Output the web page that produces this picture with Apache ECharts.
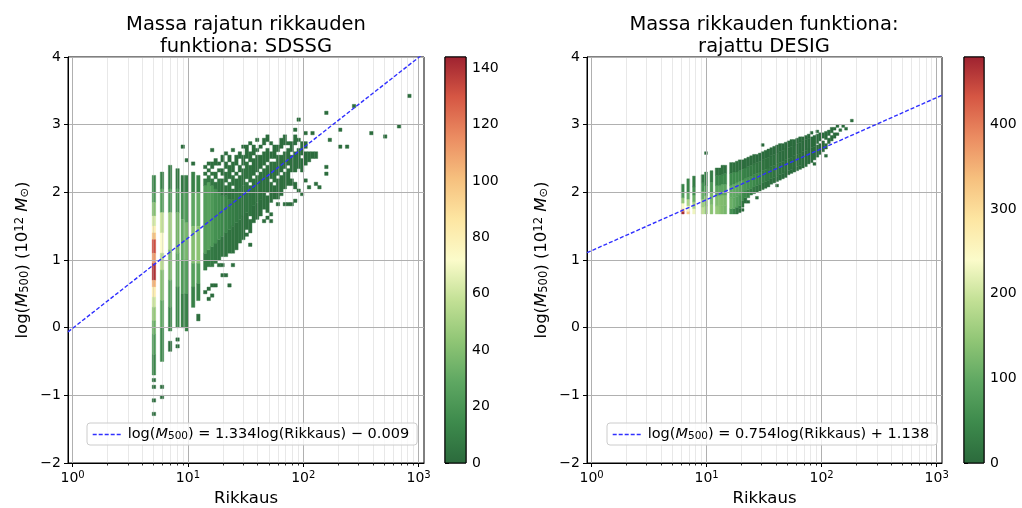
<!DOCTYPE html>
<html>
<head>
<meta charset="utf-8">
<script src="https://cdn.jsdelivr.net/npm/echarts@6/dist/echarts.min.js"></script>
<style>
  html, body { margin: 0; padding: 0; background: #fff; }
  #chart { width: 1022px; height: 508px; }
</style>
</head>
<body>
<div id="chart"></div>
<script>
// ---- axis ticks and ranges ----
const xMajorTicks = [1, 10, 100, 1000];
const xMinorTicks = [2, 3, 4, 5, 6, 7, 8, 9, 20, 30, 40, 50, 60, 70, 80, 90, 200, 300, 400, 500, 600, 700, 800, 900];
const leftBarTicks = [0, 20, 40, 60, 80, 100, 120, 140];
const rightBarTicks = [0, 100, 200, 300, 400];
const leftCountMax = 144;
const rightCountMax = 480;

// ---- fit lines: log(M500) = slope * log(Rikkaus) + intercept ----
const leftFit = { slope: 1.334, intercept: -0.009 };
const rightFit = { slope: 0.754, intercept: 1.138 };

// ---- 2D histogram bin widths (in log10 Rikkaus) ----
const leftBinWidth = 0.03;
const rightBinWidth = 0.025;

// SDSSG: [log10 Rikkaus bin start, [[log M from, log M to, count], ...]]
const leftColumns = [
  [0.690, [[2.00,2.25,12],[1.85,2.00,22],[1.65,1.85,40],[1.50,1.65,62],[1.40,1.50,80],[1.30,1.40,100],[1.10,1.30,132],[0.95,1.10,112],[0.70,0.95,140],[0.60,0.70,105],[0.45,0.60,82],[0.30,0.45,60],[0.10,0.30,45],[-0.10,0.10,32],[-0.40,-0.10,22],[-0.70,-0.40,12],[-0.80,-0.75,2],[-0.90,-0.85,1],[-1.10,-1.05,1],[-1.30,-1.25,1]]],
  [0.760, [[2.05,2.30,10],[1.70,2.05,25],[1.40,1.70,58],[1.10,1.40,72],[0.85,1.10,55],[0.40,0.85,40],[0.00,0.40,28],[-0.50,0.00,14],[-0.90,-0.85,1],[-1.05,-1.00,1]]],
  [0.830, [[2.05,2.40,8],[1.70,2.05,22],[1.15,1.70,48],[0.70,1.15,38],[0.30,0.70,25],[-0.05,0.30,12],[-0.35,-0.20,2]]],
  [0.895, [[2.05,2.35,6],[1.70,2.05,18],[1.10,1.70,35],[0.60,1.10,28],[0.00,0.60,14],[-0.20,-0.15,1],[-0.30,-0.25,1]]],
  [0.940, [[2.65,2.70,1],[2.00,2.25,6],[1.60,2.00,18],[1.00,1.60,30],[0.50,1.00,22],[0.00,0.50,10]]],
  [0.975, [[2.45,2.50,1],[2.00,2.25,8],[1.55,2.00,22],[1.00,1.55,36],[0.50,1.00,24],[-0.05,0.50,10]]],
  [1.030, [[2.40,2.45,1],[2.00,2.30,10],[1.50,2.00,28],[0.95,1.50,40],[0.60,0.95,25],[0.30,0.60,10]]],
  [1.075, [[2.00,2.25,12],[1.50,2.00,30],[0.95,1.50,42],[0.65,0.95,25],[0.40,0.65,10],[0.10,0.20,2]]],
  [1.135, [[0.85,1.10,8],[1.10,2.10,24],[2.10,2.20,8],[2.25,2.30,4],[2.35,2.40,2],[0.50,0.55,1]]],
  [1.165, [[0.90,1.15,8],[1.15,2.15,26],[2.15,2.25,7],[2.30,2.35,3],[2.40,2.45,2],[0.55,0.60,1],[0.40,0.45,1]]],
  [1.195, [[0.90,1.20,7],[1.20,2.10,22],[2.10,2.20,6],[2.25,2.30,3],[2.35,2.45,2],[2.60,2.65,1],[0.60,0.65,1],[0.45,0.50,1]]],
  [1.225, [[0.95,1.25,6],[1.25,2.05,18],[2.05,2.15,5],[2.20,2.30,3],[2.40,2.50,2],[0.60,0.65,1]]],
  [1.255, [[1.00,1.30,5],[1.30,2.00,16],[2.00,2.20,5],[2.30,2.35,2],[2.40,2.45,1],[0.90,0.95,1]]],
  [1.285, [[1.05,1.35,5],[1.35,1.95,14],[1.95,2.20,4],[2.25,2.35,2],[2.45,2.55,1],[0.90,0.95,1],[0.75,0.80,1]]],
  [1.315, [[1.05,1.40,4],[1.40,1.95,12],[1.95,2.10,4],[2.15,2.30,3],[2.35,2.45,2],[2.55,2.60,1],[0.75,0.80,1]]],
  [1.345, [[1.10,1.45,4],[1.45,1.90,10],[1.90,2.15,4],[2.20,2.40,3],[2.45,2.55,1],[0.60,0.65,1]]],
  [1.375, [[1.10,1.50,3],[1.50,1.90,8],[1.90,2.05,4],[2.10,2.25,3],[2.30,2.45,2],[2.60,2.65,1],[0.90,0.95,1]]],
  [1.405, [[1.15,1.55,3],[1.55,2.00,7],[2.00,2.20,3],[2.25,2.30,2],[2.40,2.55,2]]],
  [1.435, [[1.25,1.60,3],[1.60,2.05,6],[2.05,2.25,3],[2.30,2.40,2],[2.50,2.60,1]]],
  [1.465, [[1.30,1.65,3],[1.65,2.10,5],[2.10,2.35,3],[2.40,2.55,2],[2.65,2.70,1]]],
  [1.495, [[1.35,1.40,1],[1.45,1.70,2],[1.70,2.15,5],[2.20,2.45,3],[2.50,2.70,1]]],
  [1.525, [[1.20,1.25,1],[1.40,1.60,2],[1.65,2.10,4],[2.15,2.40,3],[2.45,2.60,2],[2.70,2.75,1]]],
  [1.555, [[1.55,1.80,2],[1.80,2.20,4],[2.25,2.50,2],[2.55,2.70,1]]],
  [1.585, [[1.60,1.85,2],[1.85,2.25,4],[2.30,2.55,2],[2.60,2.65,1],[2.75,2.80,1]]],
  [1.615, [[1.65,1.90,2],[1.90,2.30,3],[2.35,2.55,2],[2.65,2.70,1]]],
  [1.645, [[1.55,1.60,1],[1.75,2.00,2],[2.00,2.35,3],[2.40,2.60,2],[2.70,2.80,1]]],
  [1.675, [[1.60,1.65,1],[1.70,1.95,2],[2.00,2.40,3],[2.45,2.65,2],[2.75,2.85,1]]],
  [1.705, [[1.55,1.60,1],[1.65,1.70,1],[1.85,2.15,2],[2.20,2.45,2],[2.50,2.60,1],[2.70,2.75,1]]],
  [1.735, [[1.90,2.10,2],[2.15,2.45,3],[2.50,2.70,1]]],
  [1.765, [[1.80,1.85,1],[1.90,2.20,2],[2.25,2.55,2],[2.60,2.70,1]]],
  [1.795, [[1.95,2.25,2],[2.30,2.55,2],[2.65,2.80,1]]],
  [1.825, [[1.80,1.85,1],[2.05,2.30,2],[2.35,2.60,2],[2.70,2.85,1]]],
  [1.855, [[1.80,1.85,1],[2.10,2.35,2],[2.40,2.65,2],[2.70,2.75,1]]],
  [1.885, [[1.80,1.85,1],[2.10,2.20,1],[2.30,2.55,2],[2.60,2.75,1]]],
  [1.915, [[1.85,1.90,1],[2.05,2.15,1],[2.30,2.60,2],[2.70,2.85,1],[2.90,2.95,1]]],
  [1.945, [[2.00,2.05,1],[2.35,2.65,2],[2.75,2.80,1],[3.05,3.10,1]]],
  [1.975, [[1.95,2.00,1],[2.30,2.50,1],[2.55,2.75,2]]],
  [2.005, [[2.15,2.20,1],[2.40,2.60,1],[2.65,2.75,1],[2.85,2.90,1]]],
  [2.035, [[2.05,2.10,1],[2.45,2.60,1]]],
  [2.065, [[2.50,2.60,1],[2.85,2.90,1]]],
  [2.095, [[2.10,2.15,1],[2.50,2.60,1]]],
  [2.125, [[2.05,2.10,1]]],
  [2.185, [[2.25,2.30,1],[2.35,2.40,1],[3.15,3.20,1]]],
  [2.215, [[2.75,2.80,1]]],
  [2.305, [[2.65,2.70,1],[2.90,2.95,1]]],
  [2.365, [[2.65,2.70,1]]],
  [2.425, [[3.25,3.30,1]]],
  [2.575, [[2.85,2.90,1]]],
  [2.695, [[2.80,2.85,1]]],
  [2.815, [[2.95,3.00,1]]],
  [2.905, [[3.40,3.45,1]]]
];

// DESIG (cut): [log10 Rikkaus bin start, [[log M from, log M to, count], ...]]
const rightColumns = [
  [0.780, [[1.68,1.72,470],[1.72,1.76,360],[1.76,1.84,240],[1.84,1.92,150],[1.92,2.00,80],[2.00,2.12,40]]],
  [0.828, [[1.68,1.72,320],[1.72,1.80,250],[1.80,1.90,170],[1.90,2.00,100],[2.00,2.20,40]]],
  [0.878, [[1.68,1.76,230],[1.76,1.86,170],[1.86,1.96,110],[1.96,2.08,60],[2.08,2.24,25]]],
  [0.952, [[1.68,1.78,190],[1.78,1.90,160],[1.90,2.02,110],[2.02,2.14,60],[2.14,2.26,20]]],
  [0.982, [[1.68,1.80,150],[1.80,1.95,130],[1.95,2.10,80],[2.10,2.30,30],[2.56,2.60,1]]],
  [1.030, [[1.68,1.82,140],[1.82,2.00,120],[2.00,2.15,70],[2.15,2.32,25]]],
  [1.075, [[1.68,1.80,150],[1.80,1.95,130],[1.95,2.10,90],[2.10,2.25,40],[2.25,2.36,12]]],
  [1.100, [[1.68,1.80,140],[1.80,1.95,135],[1.95,2.10,95],[2.10,2.25,45],[2.25,2.36,12]]],
  [1.125, [[1.68,1.80,130],[1.80,1.96,130],[1.96,2.12,95],[2.12,2.26,45],[2.26,2.40,10]]],
  [1.150, [[1.68,1.80,120],[1.80,1.96,125],[1.96,2.12,90],[2.12,2.28,45],[2.28,2.40,10]]],
  [1.200, [[1.68,1.76,60],[1.76,1.92,110],[1.92,2.10,100],[2.10,2.28,50],[2.28,2.44,10]]],
  [1.225, [[1.68,1.76,40],[1.76,1.92,100],[1.92,2.12,100],[2.12,2.30,50],[2.30,2.44,10]]],
  [1.250, [[1.68,1.78,20],[1.78,1.94,85],[1.94,2.14,95],[2.14,2.30,50],[2.30,2.46,10]]],
  [1.275, [[1.70,1.76,8],[1.76,1.80,25],[1.80,1.96,70],[1.96,2.16,90],[2.16,2.32,45],[2.32,2.48,8]]],
  [1.300, [[1.72,1.76,2],[1.78,1.88,15],[1.88,2.00,55],[2.00,2.18,80],[2.18,2.34,40],[2.34,2.48,8]]],
  [1.325, [[1.84,1.92,6],[1.92,2.02,45],[2.02,2.20,70],[2.20,2.36,35],[2.36,2.50,6]]],
  [1.350, [[1.84,1.88,1],[1.92,2.04,35],[2.04,2.22,60],[2.22,2.38,30],[2.38,2.52,5]]],
  [1.375, [[1.96,2.06,25],[2.06,2.24,55],[2.24,2.40,25],[2.40,2.54,4]]],
  [1.400, [[1.98,2.08,20],[2.08,2.26,45],[2.26,2.42,22],[2.42,2.56,4]]],
  [1.425, [[1.90,1.94,1],[2.00,2.10,15],[2.10,2.28,40],[2.28,2.44,18],[2.44,2.56,3]]],
  [1.450, [[2.02,2.12,12],[2.12,2.30,35],[2.30,2.46,16],[2.46,2.58,3]]],
  [1.475, [[2.04,2.14,10],[2.14,2.32,30],[2.32,2.48,14],[2.48,2.60,3],[2.68,2.72,1]]],
  [1.500, [[2.06,2.16,8],[2.16,2.34,26],[2.34,2.50,12],[2.50,2.62,3]]],
  [1.525, [[2.08,2.18,6],[2.18,2.36,22],[2.36,2.52,10],[2.52,2.64,2]]],
  [1.550, [[2.12,2.20,5],[2.20,2.38,18],[2.38,2.54,9],[2.54,2.66,2]]],
  [1.575, [[2.14,2.22,4],[2.22,2.40,15],[2.40,2.56,8],[2.56,2.68,2]]],
  [1.600, [[2.08,2.12,1],[2.16,2.24,3],[2.24,2.42,12],[2.42,2.58,7],[2.58,2.70,2]]],
  [1.625, [[2.18,2.26,3],[2.26,2.44,10],[2.44,2.60,6],[2.60,2.72,1]]],
  [1.650, [[2.20,2.28,2],[2.28,2.46,9],[2.46,2.62,5],[2.62,2.72,1]]],
  [1.675, [[2.22,2.30,2],[2.30,2.48,8],[2.48,2.64,4],[2.64,2.74,1]]],
  [1.700, [[2.26,2.32,2],[2.32,2.50,7],[2.50,2.66,4],[2.66,2.76,1]]],
  [1.725, [[2.28,2.34,1],[2.34,2.52,6],[2.52,2.68,3],[2.68,2.78,1]]],
  [1.750, [[2.30,2.36,1],[2.36,2.54,5],[2.54,2.70,3],[2.70,2.78,1]]],
  [1.775, [[2.32,2.38,1],[2.38,2.56,4],[2.56,2.72,2],[2.72,2.80,1]]],
  [1.800, [[2.34,2.40,1],[2.40,2.58,4],[2.58,2.74,2],[2.74,2.82,1]]],
  [1.825, [[2.36,2.60,3],[2.60,2.76,2],[2.76,2.82,1]]],
  [1.850, [[2.38,2.62,3],[2.62,2.78,2],[2.78,2.84,1]]],
  [1.875, [[2.42,2.64,2],[2.64,2.80,2],[2.80,2.86,1]]],
  [1.900, [[2.44,2.66,2],[2.66,2.82,1],[2.86,2.90,1]]],
  [1.925, [[2.40,2.44,1],[2.48,2.68,2],[2.68,2.84,1]]],
  [1.950, [[2.52,2.70,1],[2.72,2.86,1],[2.88,2.92,1]]],
  [1.975, [[2.56,2.72,1],[2.76,2.88,1]]],
  [2.000, [[2.60,2.76,1],[2.80,2.88,1]]],
  [2.025, [[2.52,2.56,1],[2.64,2.72,1],[2.78,2.90,1]]],
  [2.050, [[2.72,2.80,1],[2.84,2.92,1]]],
  [2.075, [[2.76,2.84,1],[2.88,2.96,1]]],
  [2.100, [[2.80,2.88,1],[2.92,2.96,1]]],
  [2.125, [[2.84,2.88,1],[2.96,3.00,1]]],
  [2.150, [[2.90,2.94,1]]],
  [2.175, [[2.96,3.00,1]]],
  [2.200, [[2.92,2.96,1]]],
  [2.250, [[3.04,3.08,1]]]
];

// ---- styling ----
const FONT = 'DejaVu Sans';
const X_MIN = 0.912, X_MAX = 1113;
const cmap = ['#2b6a3c', '#3d8a4c', '#5ea762', '#8fc575', '#c2e095', '#fbfbca', '#fde6a2', '#f6c07e', '#eb8d62', '#d65744', '#9e2230'];
const FIT_COLOR = '#3030ff';

const grids = [
  { left: 68, top: 57, width: 356, height: 406 },
  { left: 587, top: 57, width: 355, height: 406 },
  { left: 445, top: 57, width: 21, height: 406 },
  { left: 964, top: 57, width: 20, height: 406 }
];

function toCells(columns, binWidth) {
  const cells = [];
  columns.forEach(([x0, runs]) => {
    runs.forEach(([y0, y1, n]) => {
      cells.push([Math.pow(10, x0), Math.pow(10, x0 + binWidth), y0, y1, n]);
    });
  });
  return cells;
}

function fitPoints(fit) {
  return [X_MIN, X_MAX].map(x => [x, fit.slope * Math.log10(x) + fit.intercept]);
}

const minus = v => (v < 0 ? '\u2212' + Math.abs(v) : String(v));

const xLabelRich = {
  b: { fontFamily: FONT, fontSize: 14, color: '#000', lineHeight: 15, verticalAlign: 'bottom' },
  s: { fontFamily: FONT, fontSize: 10, color: '#000', lineHeight: 10, padding: [0, 0, 5, 0], verticalAlign: 'top' }
};

function makeXAxis(gridIndex) {
  return {
    type: 'log', logBase: 10, gridIndex, min: X_MIN, max: X_MAX, z: 3,
    name: 'Rikkaus', nameLocation: 'middle', nameGap: 26,
    nameTextStyle: { fontFamily: FONT, fontSize: 16.5, color: '#000' },
    axisLine: { show: true, onZero: false, lineStyle: { color: '#000', width: 1 } },
    axisTick: { show: true, customValues: xMajorTicks, length: 4, lineStyle: { color: '#000' } },
    axisLabel: {
      customValues: xMajorTicks, margin: 7, fontFamily: FONT, fontSize: 14, color: '#000',
      formatter: v => '{b|10}{s|' + Math.round(Math.log10(v)) + '}', rich: xLabelRich
    },
    splitLine: { show: true, lineStyle: { color: '#b0b0b0', width: 1 } }
  };
}

const yNameRich = {
  n: { fontFamily: FONT, fontSize: 16.5, color: '#000' },
  i: { fontFamily: FONT, fontSize: 16.5, color: '#000', fontStyle: 'italic' },
  sub: { fontFamily: FONT, fontSize: 11.5, color: '#000', lineHeight: 12, padding: [6, 0, 0, 0], verticalAlign: 'bottom' },
  sup: { fontFamily: FONT, fontSize: 11.5, color: '#000', lineHeight: 12, padding: [0, 0, 6, 0], verticalAlign: 'top' }
};

function makeYAxis(gridIndex) {
  return {
    type: 'value', gridIndex, min: -2, max: 4, interval: 1, z: 3,
    name: '{n|log(}{i|M}{sub|500}{n|) (10}{sup|12}{n| }{i|M}{sub|\u2299}{n|)}',
    nameLocation: 'middle', nameGap: 37, nameRotate: 90,
    nameTextStyle: { fontFamily: FONT, fontSize: 16.5, color: '#000', rich: yNameRich },
    axisLine: { show: true, onZero: false, lineStyle: { color: '#000', width: 1 } },
    axisTick: { show: true, length: 4, lineStyle: { color: '#000' } },
    axisLabel: { margin: 7, fontFamily: FONT, fontSize: 14, color: '#000', formatter: minus },
    splitLine: { show: true, lineStyle: { color: '#b0b0b0', width: 1 } }
  };
}

function makeBarAxes(gridIndex, maxVal, ticks) {
  return [
    { type: 'value', gridIndex, min: 0, max: 1, show: false },
    {
      type: 'value', gridIndex, min: 0, max: maxVal, position: 'right',
      axisLine: { show: false },
      axisTick: { show: true, customValues: ticks, length: 4, lineStyle: { color: '#000' } },
      axisLabel: { customValues: ticks, margin: 6, fontFamily: FONT, fontSize: 14, color: '#000' },
      splitLine: { show: false }
    }
  ];
}

function heatSeries(idx, cells) {
  return {
    type: 'custom', xAxisIndex: idx, yAxisIndex: idx, z: 1, silent: true,
    encode: { x: [0, 1], y: [2, 3] },
    data: cells,
    renderItem(params, api) {
      const p0 = api.coord([api.value(0), api.value(2)]);
      const p1 = api.coord([api.value(1), api.value(3)]);
      const c = api.visual('color');
      return {
        type: 'rect',
        shape: { x: p0[0], y: p1[1], width: p1[0] - p0[0], height: p0[1] - p1[1] },
        style: { fill: c, stroke: c, lineWidth: 0.4 }
      };
    }
  };
}

function minorSeries(idx) {
  return {
    type: 'custom', xAxisIndex: idx, yAxisIndex: idx, z: 2, silent: true,
    data: xMinorTicks.map(v => [v, 0]),
    renderItem(params, api) {
      const cs = params.coordSys;
      const x = Math.round(api.coord([api.value(0), 0])[0]) + 0.5;
      const bottom = cs.y + cs.height;
      return {
        type: 'group',
        children: [
          { type: 'line', shape: { x1: x, y1: cs.y, x2: x, y2: bottom }, style: { stroke: 'rgba(190,190,190,0.35)', lineWidth: 1 } },
          { type: 'line', shape: { x1: x, y1: bottom, x2: x, y2: bottom + 2.5 }, style: { stroke: '#000', lineWidth: 0.8 } }
        ]
      };
    }
  };
}

function barSeries(idx, maxVal) {
  return {
    type: 'custom', xAxisIndex: idx, yAxisIndex: idx, silent: true,
    data: [[0, 0, 1, maxVal]],
    encode: { x: [0, 2], y: [1, 3] },
    renderItem(params, api) {
      const p0 = api.coord([api.value(0), api.value(1)]);
      const p1 = api.coord([api.value(2), api.value(3)]);
      const stops = cmap.map((c, i) => ({ offset: i / (cmap.length - 1), color: c }));
      return {
        type: 'rect',
        shape: { x: p0[0], y: p1[1], width: p1[0] - p0[0], height: p0[1] - p1[1] },
        style: { fill: new echarts.graphic.LinearGradient(0, 1, 0, 0, stops), stroke: '#000', lineWidth: 1 }
      };
    }
  };
}

function fitSeries(idx, name, fit) {
  return {
    type: 'line', name, xAxisIndex: idx, yAxisIndex: idx, z: 5, silent: true,
    symbol: 'none', clip: true, animation: false,
    data: fitPoints(fit),
    lineStyle: { color: FIT_COLOR, width: 1.4, type: [4, 2] },
    itemStyle: { color: FIT_COLOR }
  };
}

const legendRich = {
  t: { fontFamily: FONT, fontSize: 14.5, color: '#000' },
  i: { fontFamily: FONT, fontSize: 14.5, color: '#000', fontStyle: 'italic' },
  s: { fontFamily: FONT, fontSize: 10.5, color: '#000', lineHeight: 10, padding: [5, 0, 0, 0], verticalAlign: 'bottom' }
};
const fitLabel = fit => {
  const sign = fit.intercept < 0 ? ' \u2212 ' : ' + ';
  return '{t|log(}{i|M}{s|500}{t|) = ' + fit.slope.toFixed(3) + 'log(Rikkaus)' + sign + Math.abs(fit.intercept).toFixed(3) + '}';
};

function makeLegend(name, left, fit) {
  return {
    data: [name], left, top: 423, orient: 'horizontal', z: 10,
    itemWidth: 30, itemHeight: 12, itemGap: 10,
    padding: [3, 8, 3, 5],
    backgroundColor: 'rgba(255,255,255,0.8)', borderColor: '#cccccc', borderWidth: 1, borderRadius: 3,
    selectedMode: false,
    itemStyle: { opacity: 0, borderWidth: 0 },
    lineStyle: { type: 'inherit', width: 'inherit', color: 'inherit' },
    formatter: () => fitLabel(fit),
    textStyle: { fontFamily: FONT, fontSize: 14.5, color: '#000', rich: legendRich }
  };
}

const chart = echarts.init(document.getElementById('chart'));
const [bx2, by2] = makeBarAxes(2, leftCountMax, leftBarTicks);
const [bx3, by3] = makeBarAxes(3, rightCountMax, rightBarTicks);

const titleStyle = { fontFamily: FONT, fontSize: 19.5, fontWeight: 'normal', color: '#000', lineHeight: 22 };

chart.setOption({
  animation: false,
  textStyle: { fontFamily: FONT },
  title: [
    { text: 'Massa rajatun rikkauden\nfunktiona: SDSSG', left: 241, top: 9, textAlign: 'center', textStyle: titleStyle },
    { text: 'Massa rikkauden funktiona:\nrajattu DESIG', left: 759, top: 9, textAlign: 'center', textStyle: titleStyle }
  ],
  grid: grids.map(g => Object.assign({
    show: true, borderColor: '#000', borderWidth: 1, backgroundColor: 'transparent',
    containLabel: false, outerBoundsMode: 'none'
  }, g)),
  xAxis: [makeXAxis(0), makeXAxis(1), bx2, bx3],
  yAxis: [makeYAxis(0), makeYAxis(1), by2, by3],
  visualMap: [
    { type: 'continuous', show: false, seriesIndex: 0, dimension: 4, min: 0, max: leftCountMax, inRange: { color: cmap } },
    { type: 'continuous', show: false, seriesIndex: 1, dimension: 4, min: 0, max: rightCountMax, inRange: { color: cmap } }
  ],
  legend: [
    makeLegend('SDSSG fit', 87, leftFit),
    makeLegend('DESIG fit', 607, rightFit)
  ],
  series: [
    heatSeries(0, toCells(leftColumns, leftBinWidth)),
    heatSeries(1, toCells(rightColumns, rightBinWidth)),
    minorSeries(0),
    minorSeries(1),
    barSeries(2, leftCountMax),
    barSeries(3, rightCountMax),
    fitSeries(0, 'SDSSG fit', leftFit),
    fitSeries(1, 'DESIG fit', rightFit)
  ]
});
</script>
</body>
</html>
